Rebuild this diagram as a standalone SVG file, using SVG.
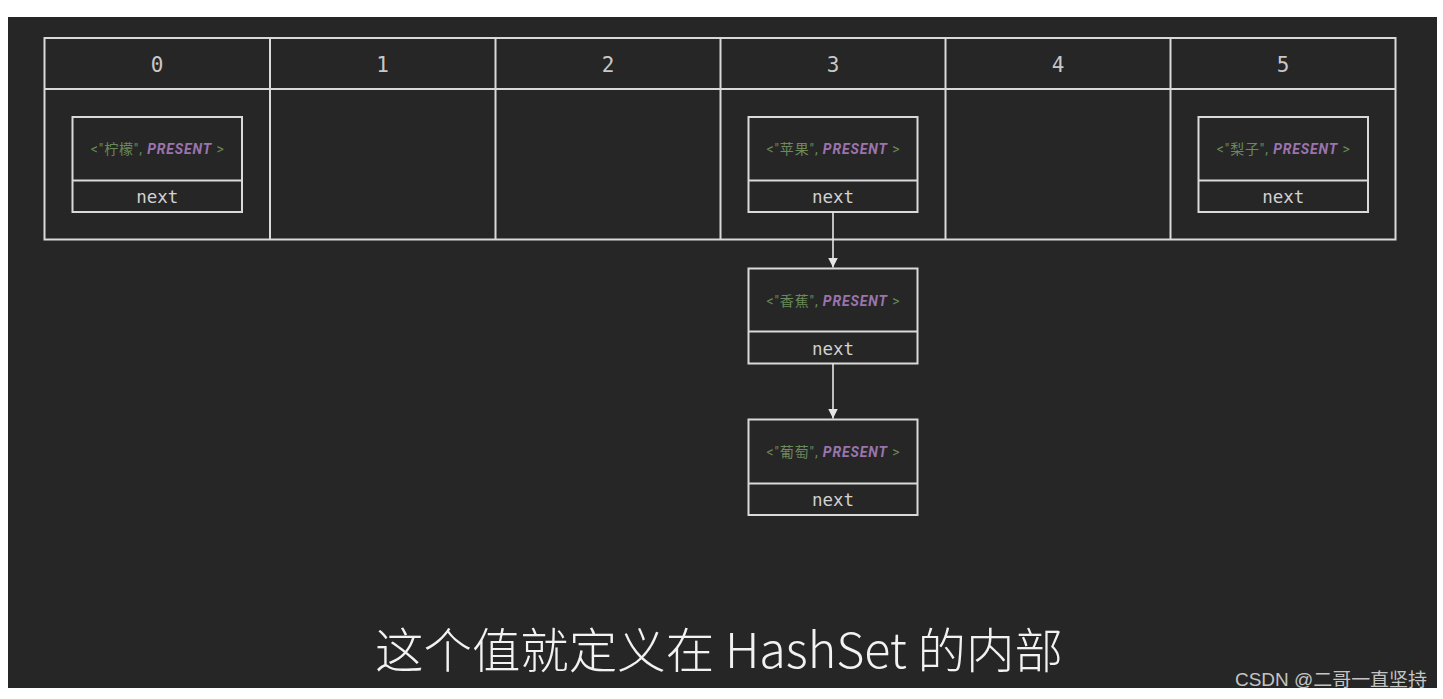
<svg xmlns="http://www.w3.org/2000/svg" width="1443" height="699" viewBox="0 0 1443 699">
<defs>
<style>
.ln{fill:none;stroke:#d9d9d9;stroke-width:2}
.idx{font-family:"DejaVu Sans Mono","Liberation Mono",monospace;font-size:21px;fill:#c8c8c8;text-anchor:middle}
.nx{font-family:"DejaVu Sans Mono","Liberation Mono",monospace;font-size:17.5px;fill:#d2d2d2;text-anchor:middle}
.lb{font-family:Roboto,"Noto Sans CJK SC",sans-serif;font-size:14px;fill:#6a8a5a;text-anchor:middle}
.pr{font-weight:bold;font-style:italic;fill:#9b74ae}
.cap{font-family:"Noto Sans CJK SC","Noto Sans",sans-serif;font-size:48px;font-weight:300;fill:#f2f2f2}
.wm{font-family:"Liberation Sans","Noto Sans CJK SC",sans-serif;font-size:18px;fill:#c4c4c4}
</style>
<marker id="ah" viewBox="0 0 10 10" refX="10" refY="5" markerWidth="10" markerHeight="10" markerUnits="userSpaceOnUse" orient="auto">
<path d="M0,0 L10,5 L0,10 Z" fill="#e6e6e6"/>
</marker>
</defs>
<rect x="0" y="0" width="1443" height="699" fill="#ffffff"/>
<rect x="8" y="17" width="1429" height="671" fill="#262626"/>

<g id="table">
<rect class="ln" x="44.5" y="38" width="1351" height="201.5"/>
<line class="ln" x1="44.5" y1="89" x2="1395.5" y2="89"/>
<line class="ln" x1="270" y1="38" x2="270" y2="239.5"/>
<line class="ln" x1="495.5" y1="38" x2="495.5" y2="239.5"/>
<line class="ln" x1="720.5" y1="38" x2="720.5" y2="239.5"/>
<line class="ln" x1="945.5" y1="38" x2="945.5" y2="239.5"/>
<line class="ln" x1="1170.5" y1="38" x2="1170.5" y2="239.5"/>
<text class="idx" x="157" y="72">0</text>
<text class="idx" x="382.5" y="72">1</text>
<text class="idx" x="608" y="72">2</text>
<text class="idx" x="833" y="72">3</text>
<text class="idx" x="1058" y="72">4</text>
<text class="idx" x="1283" y="72">5</text>
</g>

<g id="node-lemon">
<rect class="ln" x="72.5" y="117" width="169.5" height="95"/>
<line class="ln" x1="72.5" y1="180.5" x2="242" y2="180.5"/>
<text class="lb" x="157.3" y="154" textLength="133" lengthAdjust="spacing">&lt;"柠檬", <tspan class="pr">PRESENT</tspan> &gt;</text>
<text class="nx" x="157.3" y="203">next</text>
</g>

<g id="node-apple">
<rect class="ln" x="748.5" y="117" width="169" height="95"/>
<line class="ln" x1="748.5" y1="180.5" x2="917.5" y2="180.5"/>
<text class="lb" x="833" y="154" textLength="133" lengthAdjust="spacing">&lt;"苹果", <tspan class="pr">PRESENT</tspan> &gt;</text>
<text class="nx" x="833" y="203">next</text>
</g>

<g id="node-pear">
<rect class="ln" x="1198.5" y="117" width="169.5" height="95"/>
<line class="ln" x1="1198.5" y1="180.5" x2="1368" y2="180.5"/>
<text class="lb" x="1283.3" y="154" textLength="133" lengthAdjust="spacing">&lt;"梨子", <tspan class="pr">PRESENT</tspan> &gt;</text>
<text class="nx" x="1283.3" y="203">next</text>
</g>

<g id="node-banana">
<rect class="ln" x="748.5" y="268.5" width="169" height="95"/>
<line class="ln" x1="748.5" y1="331.5" x2="917.5" y2="331.5"/>
<text class="lb" x="833" y="305.5" textLength="133" lengthAdjust="spacing">&lt;"香蕉", <tspan class="pr">PRESENT</tspan> &gt;</text>
<text class="nx" x="833" y="354.5">next</text>
</g>

<g id="node-grape">
<rect class="ln" x="748.5" y="419.5" width="169" height="95.5"/>
<line class="ln" x1="748.5" y1="483.5" x2="917.5" y2="483.5"/>
<text class="lb" x="833" y="456.5" textLength="133" lengthAdjust="spacing">&lt;"葡萄", <tspan class="pr">PRESENT</tspan> &gt;</text>
<text class="nx" x="833" y="506">next</text>
</g>

<g id="connectors">
<line x1="833" y1="212" x2="833" y2="267.5" stroke="#e6e6e6" stroke-width="1.6" marker-end="url(#ah)"/>
<line x1="833" y1="363.5" x2="833" y2="418.5" stroke="#e6e6e6" stroke-width="1.6" marker-end="url(#ah)"/>
</g>

<text class="cap" x="375" y="668" textLength="688" lengthAdjust="spacingAndGlyphs">这个值就定义在 HashSet 的内部</text>
<text class="wm" x="1235" y="686" textLength="192" lengthAdjust="spacingAndGlyphs">CSDN @二哥一直坚持</text>
</svg>
